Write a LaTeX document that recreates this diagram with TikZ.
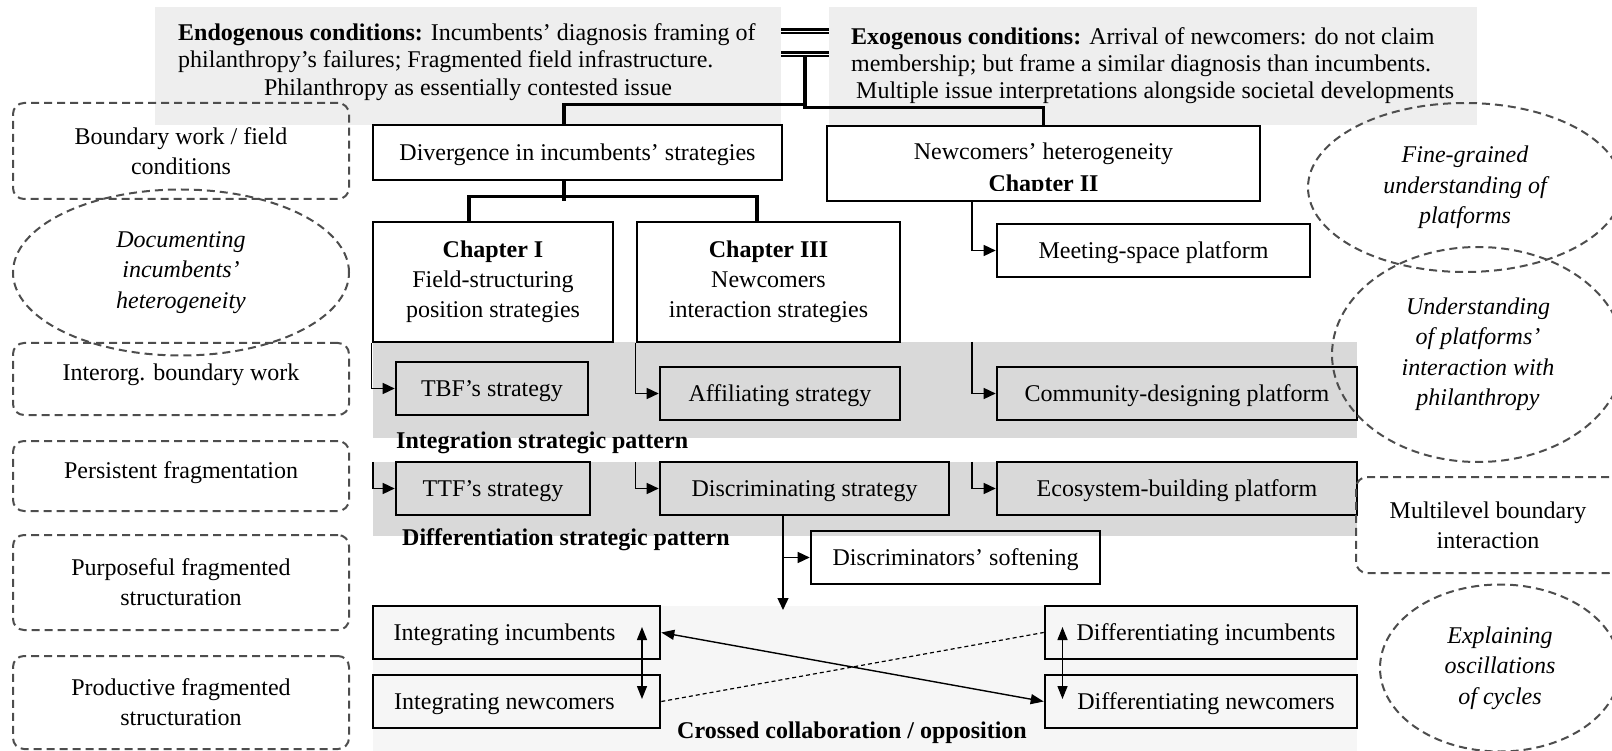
\documentclass[tikz,border=0pt]{standalone}
\usepackage{fontspec}
\setmainfont{Liberation Serif}
\usetikzlibrary{shapes.geometric,arrows.meta}

\definecolor{panelgray}{HTML}{EEEEEE}
\definecolor{bandgray}{HTML}{D9D9D9}
\definecolor{palegray}{HTML}{F6F6F6}
\definecolor{dashgray}{HTML}{4D4D4D}

\tikzset{
  txt/.style={inner sep=0pt, font=\fontsize{24}{30}\selectfont},
  panel/.style={fill=panelgray, draw=none, inner sep=0pt},
  band/.style={fill=#1, draw=none, inner sep=0pt},
  sbox/.style={draw=black, line width=2.6pt, inner sep=0pt, align=center, txt},
  fbox/.style={sbox, fill=#1},
  oneline/.style={text height=21pt, text depth=5pt},
  dbox/.style={draw=dashgray, line width=2pt, dash pattern=on 8pt off 5pt,
               rounded corners=11pt, inner sep=0pt, align=center, txt},
  dell/.style={ellipse, draw=dashgray, line width=2pt, dash pattern=on 8pt off 5pt,
               inner sep=0pt, align=center, txt, font=\fontsize{24}{30.5}\selectfont\itshape},
  raised/.style={text height=16pt, text depth=12pt},
  conn/.style={line width=3.2pt, line cap=rect},
  elbow/.style={line width=1.4pt, -{Triangle[length=12pt,width=11pt]}},
  twoway/.style={line width=1.4pt, {Triangle[length=13pt,width=10pt]}-{Triangle[length=13pt,width=10pt]}},
  xlink/.style={line width=1.2pt, dash pattern=on 4pt off 3pt},
  dblline/.style={line width=2.2pt, double=white, double distance=1.6pt},
}

\begin{document}
\begin{tikzpicture}[x=1pt,y=-1pt]
\useasboundingbox (0,0) rectangle (1612,751);

% background panels and bands
\node[panel, minimum width=626pt, minimum height=118pt] (endo) at (468,66) {};
\node[panel, minimum width=648pt, minimum height=118pt] (exo) at (1153,66) {};
\node[band=bandgray, minimum width=984pt, minimum height=96pt] (band1) at (865,390) {};
\node[band=bandgray, minimum width=984pt, minimum height=74pt] (band2) at (865,499) {};
\node[band=palegray, minimum width=984pt, minimum height=145pt] (band3) at (865,678.5) {};

% conditions text
\node[txt, anchor=base west] (endo1) at (178,41) {\textbf{Endogenous conditions:} Incumbents’ diagnosis framing of};
\node[txt, anchor=base west] (endo2) at (178,68) {philanthropy’s failures; Fragmented field infrastructure.};
\node[txt, anchor=base] (endo3) at (468,96) {Philanthropy as essentially contested issue};
\node[txt, anchor=base west] (exo1) at (851,45) {\textbf{Exogenous conditions:} Arrival of newcomers: do not claim};
\node[txt, anchor=base west] (exo2) at (851,71.5) {membership; but frame a similar diagnosis than incumbents.};
\node[txt, anchor=base west] (exo3) at (856,98.5) {Multiple issue interpretations alongside societal developments};

% main boxes
\node[sbox, oneline, minimum width=409pt, minimum height=55pt] (div) at (577.5,152.5) {Divergence in incumbents’ strategies};
\node[sbox, minimum width=433pt, minimum height=75pt] (newc) at (1043.5,163.5) {};
\node[txt, anchor=base] (newct) at (1043.5,160) {Newcomers’ heterogeneity};
\begin{scope}
  \clip (828,127) rectangle (1259,191);
  \node[txt, anchor=base] (ch2) at (1043.5,191.5) {\textbf{Chapter II}};
\end{scope}
\node[sbox, minimum width=240pt, minimum height=120pt] (ch1) at (493,282) {\textbf{Chapter I}\\Field-structuring\\position strategies};
\node[sbox, minimum width=263pt, minimum height=120pt] (ch3) at (768.5,282) {\textbf{Chapter III}\\Newcomers\\interaction strategies};
\node[sbox, oneline, minimum width=313pt, minimum height=53pt] (meet) at (1153.5,250.5) {Meeting-space platform};

\node[fbox=bandgray, oneline, minimum width=192pt, minimum height=53pt] (tbf) at (492,388.5) {TBF’s strategy};
\node[fbox=bandgray, oneline, minimum width=240pt, minimum height=53pt] (aff) at (780,393.5) {Affiliating strategy};
\node[fbox=bandgray, oneline, minimum width=360pt, minimum height=53pt] (comm) at (1177,393.5) {Community-designing platform};
\node[fbox=bandgray, oneline, minimum width=194pt, minimum height=53pt] (ttf) at (493,488.5) {TTF’s strategy};
\node[fbox=bandgray, oneline, minimum width=289pt, minimum height=53pt] (disc) at (804.5,488.5) {Discriminating strategy};
\node[fbox=bandgray, oneline, minimum width=360pt, minimum height=53pt] (eco) at (1177,488.5) {Ecosystem-building platform};
\node[sbox, oneline, minimum width=289pt, minimum height=53pt] (soft) at (955.5,557.5) {Discriminators’ softening};

\node[fbox=palegray, oneline, minimum width=287pt, minimum height=53pt] (intinc) at (516.5,632.5) {Integrating incumbents\kern24pt};
\node[fbox=palegray, oneline, minimum width=287pt, minimum height=53pt] (intnew) at (516.5,701.5) {Integrating newcomers\kern24pt};
\node[fbox=palegray, oneline, minimum width=312pt, minimum height=53pt] (difinc) at (1201,632.5) {\kern10pt Differentiating incumbents};
\node[fbox=palegray, oneline, minimum width=312pt, minimum height=53pt] (difnew) at (1201,701.5) {\kern10pt Differentiating newcomers};

% pattern labels
\node[txt, anchor=base west] (intpat) at (396,448) {\textbf{Integration strategic pattern}};
\node[txt, anchor=base west] (difpat) at (402,545.5) {\textbf{Differentiation strategic pattern}};
\node[txt, anchor=base] (crossed) at (852,738) {\textbf{Crossed collaboration / opposition}};

% tree connectors at the top
\coordinate (lvA) at (0,31.5);
\coordinate (lvB) at (0,54.5);
\draw[dblline] (endo.east |- lvA) -- (exo.west |- lvA);
\draw[dblline] (endo.east |- lvB) -- (exo.west |- lvB);
\coordinate (trunk) at (805,57);
\coordinate (splitR) at (805,107.5);
\draw[conn] (trunk) -- ++(0,47.5) -| ([xshift=-13.5pt]div.north);
\draw[conn] (splitR) -| (newc.north);
\draw[conn] ([xshift=-13.5pt]div.south) -- ++(0,18);
\draw[conn] ([xshift=-24pt]ch1.north) -- ++(0,-24) -| ([xshift=-11.5pt]ch3.north);

% elbow arrows into the strategies and platforms
\coordinate (nx) at (972,0);
\coordinate (dx) at (783,0);
\draw[elbow] (newc.south -| nx) |- (meet.west);
\draw[elbow] (ch1.south west) |- (tbf.west);
\draw[elbow] (band2.north west) |- (ttf.west);
\draw[elbow] (ch3.south west) |- (aff.west);
\draw[elbow] (band2.north -| ch3.west) |- (disc.west);
\draw[elbow] (band1.north -| nx) |- (comm.west);
\draw[elbow] (band2.north -| nx) |- (eco.west);
\coordinate (dnend) at (783,610);
\draw[elbow] (disc.south -| dx) -- (dnend);
\draw[elbow] (dx |- soft.west) -- (soft.west);

% crossed collaboration / opposition
\coordinate (ia) at (642,627);
\coordinate (ib) at (642,699);
\coordinate (da) at (1062.5,627);
\coordinate (db) at (1062.5,699);
\draw[twoway] (ia) -- (ib);
\draw[twoway] (da) -- (db);
\draw[twoway] (intinc.east) -- (difnew.west);
\draw[xlink] (intnew.east) -- (difinc.west);

% side annotations
\node[dbox, minimum width=336pt, minimum height=96pt] (bw) at (181,151) {Boundary work / field\\conditions};
\node[dell, minimum width=336pt, minimum height=166pt] (docu) at (181,272.5) {Documenting\\incumbents’\\heterogeneity};
\node[dbox, raised, minimum width=336pt, minimum height=72pt] (iob) at (181,379) {Interorg. boundary work};
\node[dbox, raised, minimum width=336pt, minimum height=70pt] (persist) at (181,476) {Persistent fragmentation};
\node[dbox, minimum width=336pt, minimum height=95pt] (purp) at (181,582.5) {Purposeful fragmented\\structuration};
\node[dbox, minimum width=336pt, minimum height=93pt] (prod) at (181,702.5) {Productive fragmented\\structuration};

\node[dell, minimum width=314pt, minimum height=169pt] (fine) at (1465,187.5) {Fine-grained\\understanding of\\platforms};
\node[dell, minimum width=292pt, minimum height=215pt] (under) at (1478,354.5) {Understanding\\of platforms’\\interaction with\\philanthropy};
\node[dbox, minimum width=264pt, minimum height=96pt] (multi) at (1488,525) {Multilevel boundary\\interaction};
\node[dell, minimum width=240pt, minimum height=167pt] (expl) at (1500,668) {Explaining\\oscillations\\of cycles};
\end{tikzpicture}
\end{document}
